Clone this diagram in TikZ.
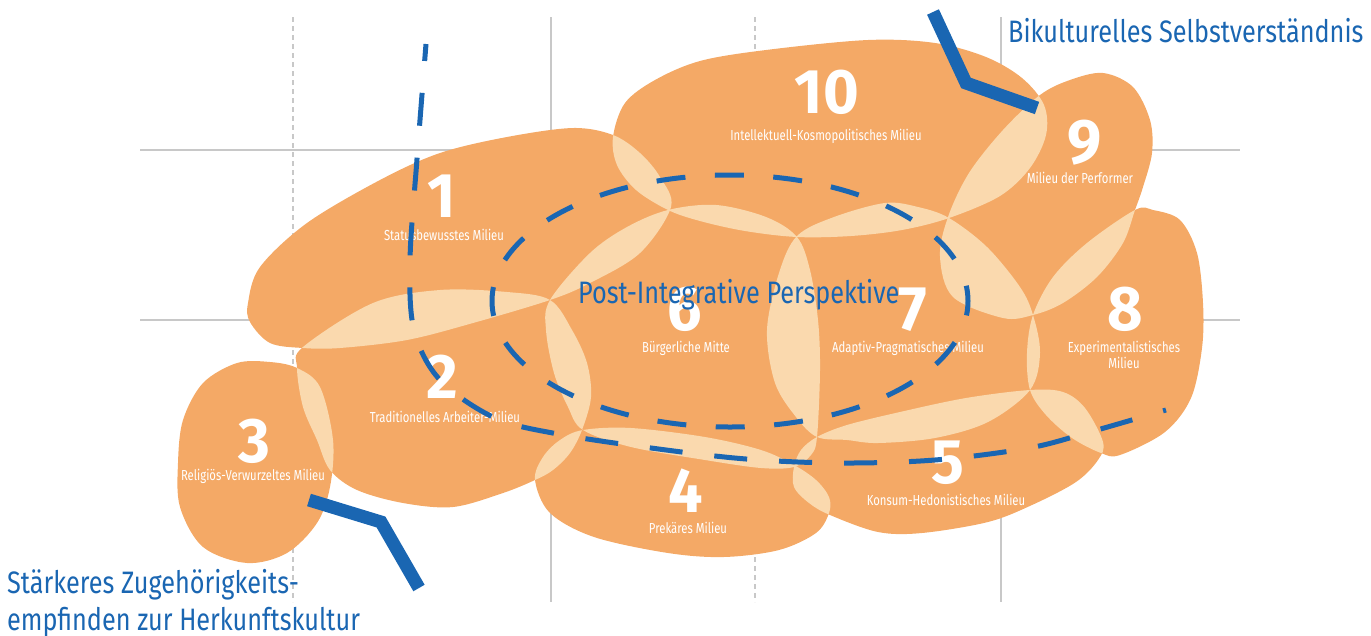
\documentclass[tikz,border=0pt]{standalone}
\usepackage{fontspec}
\setmainfont{Fira Sans}[FakeStretch=0.78]
\newfontfamily\bluefont{Fira Sans}[FakeStretch=0.815]
\newfontfamily\digitfont{Fira Sans}[FakeStretch=0.97]
\definecolor{morange}{HTML}{F4A966}
\definecolor{mlight}{HTML}{FAD9AE}
\definecolor{mblue}{HTML}{1A66B2}
\definecolor{mgrey}{HTML}{C8C8C8}
\newcommand\milA{plot[smooth cycle,tension=.55] coordinates{(248,303)(260,267)(307,223)(380,180)(440,153)(507,137)(573,128)(613,135)(640,153)(660,177)(671,207)(640,253)(590,283)(550,300)(473,323)(407,340)(340,348)(303,348)(270,343)(250,322)}}
\newcommand\milB{plot[smooth cycle,tension=.55] coordinates{(303,347)(373,303)(440,290)(507,292)(550,300)(572,330)(587,363)(591,397)(582,430)(570,453)(553,470)(535,480)(503,493)(453,507)(403,503)(357,490)(330,470)(317,440)(303,407)(297,368)}}
\newcommand\milC{plot[smooth cycle,tension=.55] coordinates{(297,368)(270,362)(237,363)(203,383)(183,420)(178,463)(180,507)(203,547)(247,563)(287,553)(317,523)(330,487)(333,440)(320,387)}}
\newcommand\milD{plot[smooth cycle,tension=.55] coordinates{(535,480)(543,457)(560,440)(583,430)(631,428)(705,437)(761,450)(794,465)(816,480)(829,497)(829,513)(816,533)(779,550)(724,557)(668,553)(594,537)(550,513)}}
\newcommand\milE{plot[smooth cycle,tension=.55] coordinates{(817,437)(847,425)(900,412)(966,398)(1030,390)(1063,392)(1085,408)(1103,442)(1098,460)(1076,482)(1032,505)(988,522)(922,533)(878,532)(830,515)(809,503)(794,487)(794,467)(801,450)}}
\newcommand\milF{plot[smooth cycle,tension=.55] coordinates{(550,300)(590,253)(627,227)(668,210)(716,205)(766,217)(797,237)(810,270)(818,320)(820,370)(817,437)(811,455)(794,467)(761,468)(705,460)(631,447)(583,430)(568,407)(554,373)(546,330)}}
\newcommand\milG{plot[smooth cycle,tension=.55] coordinates{(797,236)(834,217)(885,203)(918,207)(949,218)(987,247)(1020,287)(1033,315)(1040,353)(1030,390)(988,422)(935,438)(878,443)(847,440)(817,437)(796,417)(775,383)(767,330)(779,273)}}
\newcommand\milH{plot[smooth cycle,tension=.55] coordinates{(1135,210)(1153,210)(1180,220)(1197,253)(1203,303)(1202,348)(1191,398)(1165,432)(1120,455)(1101,453)(1072,438)(1046,415)(1030,390)(1027,353)(1033,315)(1053,277)(1087,243)}}
\newcommand\milI{plot[smooth cycle,tension=.55] coordinates{(1040,95)(1070,80)(1103,73)(1133,87)(1150,120)(1152,153)(1143,187)(1135,210)(1123,243)(1097,277)(1063,303)(1033,315)(1003,318)(953,297)(940,257)(948,217)(969,173)(1003,130)}}
\newcommand\milJ{plot[smooth cycle,tension=.55] coordinates{(613,137)(625,103)(655,80)(700,61)(766,50)(868,40)(935,43)(986,57)(1022,78)(1044,105)(1046,135)(1030,168)(1000,196)(949,218)(902,230)(851,236)(797,237)(745,231)(700,221)(668,210)(636,190)(617,165)}}
\newcommand\ovl[2]{\begin{scope}\clip #1;\fill[lens] #2;\end{scope}}
\begin{document}
\begin{tikzpicture}[x=1pt,y=-1pt,
  blob/.style={fill=morange},
  lens/.style={fill=mlight},
  gridline/.style={draw=mgrey,line width=1.1pt},
  griddash/.style={draw=mgrey,line width=1.1pt,dash pattern=on 5pt off 4pt},
  num/.style={text=white,font=\digitfont\fontsize{63}{63}\selectfont\bfseries,inner sep=0pt,anchor=base},
  lab/.style={text=white,font=\fontsize{14.5}{16}\selectfont,inner sep=0pt,anchor=base},
  bluetxt/.style={text=mblue,font=\bluefont\fontsize{31}{37}\selectfont,inner sep=0pt,anchor=base west},
  dashblue/.style={draw=mblue,line width=5pt},
  bracket/.style={draw=mblue,line width=13pt,line join=miter}]
\useasboundingbox (0,0) rectangle (1371,635);
% grid
\draw[gridline] (140,150) -- (1240,150);
\draw[gridline] (140,320) -- (1240,320);
\draw[gridline] (551,17) -- (551,602);
\draw[gridline] (1001,17) -- (1001,602);
\draw[griddash] (293,17) -- (293,602);
\draw[griddash] (755,17) -- (755,602);
% blobs
\fill[blob] \milA; \fill[blob] \milB; \fill[blob] \milC; \fill[blob] \milD; \fill[blob] \milE;
\fill[blob] \milF; \fill[blob] \milG; \fill[blob] \milH; \fill[blob] \milI; \fill[blob] \milJ;
% overlaps
\ovl{\milA}{\milJ} \ovl{\milA}{\milF} \ovl{\milA}{\milB}
\ovl{\milB}{\milC} \ovl{\milB}{\milF} \ovl{\milB}{\milD}
\ovl{\milD}{\milF} \ovl{\milD}{\milE}
\ovl{\milE}{\milF} \ovl{\milE}{\milG} \ovl{\milE}{\milH}
\ovl{\milF}{\milG} \ovl{\milF}{\milJ}
\ovl{\milG}{\milJ} \ovl{\milG}{\milI} \ovl{\milG}{\milH}
\ovl{\milH}{\milI} \ovl{\milI}{\milJ}
% numbers and labels
\node[num] (n1) at (442,217) {1};
\node[lab] (l1) at (444,240) {Statusbewusstes Milieu};
\node[num] (n2) at (442,398) {2};
\node[lab] (l2) at (445,422) {Traditionelles Arbeiter-Milieu};
\node[num] (n3) at (254,462) {3};
\node[lab] (l3) at (253,480) {Religiös-Verwurzeltes Milieu};
\node[num] (n4) at (686,512) {4};
\node[lab] (l4) at (688,533) {Prekäres Milieu};
\node[num] (n5) at (948,483) {5};
\node[lab] (l5) at (946,505) {Konsum-Hedonistisches Milieu};
\node[num] (n6) at (685,330) {6};
\node[lab] (l6) at (686,352) {Bürgerliche Mitte};
\node[num] (n7) at (913,330) {7};
\node[lab] (l7) at (908,352) {Adaptiv-Pragmatisches Milieu};
\node[num] (n8) at (1125,330) {8};
\node[lab] (l8a) at (1124,352) {Experimentalistisches};
\node[lab] (l8b) at (1124,368) {Milieu};
\node[num] (n9) at (1085,163) {9};
\node[lab] (l9) at (1080,183) {Milieu der Performer};
\node[num] (n10) at (827,113) {10};
\node[lab] (l10) at (826,140) {Intellektuell-Kosmopolitisches Milieu};
% dashed blue curves
\draw[dashblue,dash pattern=on 29pt off 29.5pt,dash phase=14.5pt] (730,301) ellipse [x radius=238, y radius=126];
\draw[dashblue,dash pattern=on 33pt off 32pt,dash phase=16pt] plot[smooth,tension=.55] coordinates{(426,44)(417,159)(410,260)(414,330)(440,380)(495,418)(558,434)(651,448)(746,459)(840,463)(935,460)(1029,448)(1090,432)(1166,410)};
% brackets
\coordinate (b1) at (933,12);
\coordinate (b2) at (966,83);
\coordinate (b3) at (1037,108);
\draw[bracket] (b1) -- (b2) -- (b3);
\coordinate (c1) at (309,500);
\coordinate (c2) at (381,522);
\coordinate (c3) at (419,588);
\draw[bracket] (c1) -- (c2) -- (c3);
% blue texts
\node[bluetxt] (t1) at (1008,42) {Bikulturelles Selbstverständnis};
\node[bluetxt] (t2) at (578,303) {Post-Integrative Perspektive};
\node[bluetxt] (t3) at (7,593) {Stärkeres Zugehörigkeits-};
\node[bluetxt] (t4) at (7,630) {empfinden zur Herkunftskultur};
\end{tikzpicture}
\end{document}
